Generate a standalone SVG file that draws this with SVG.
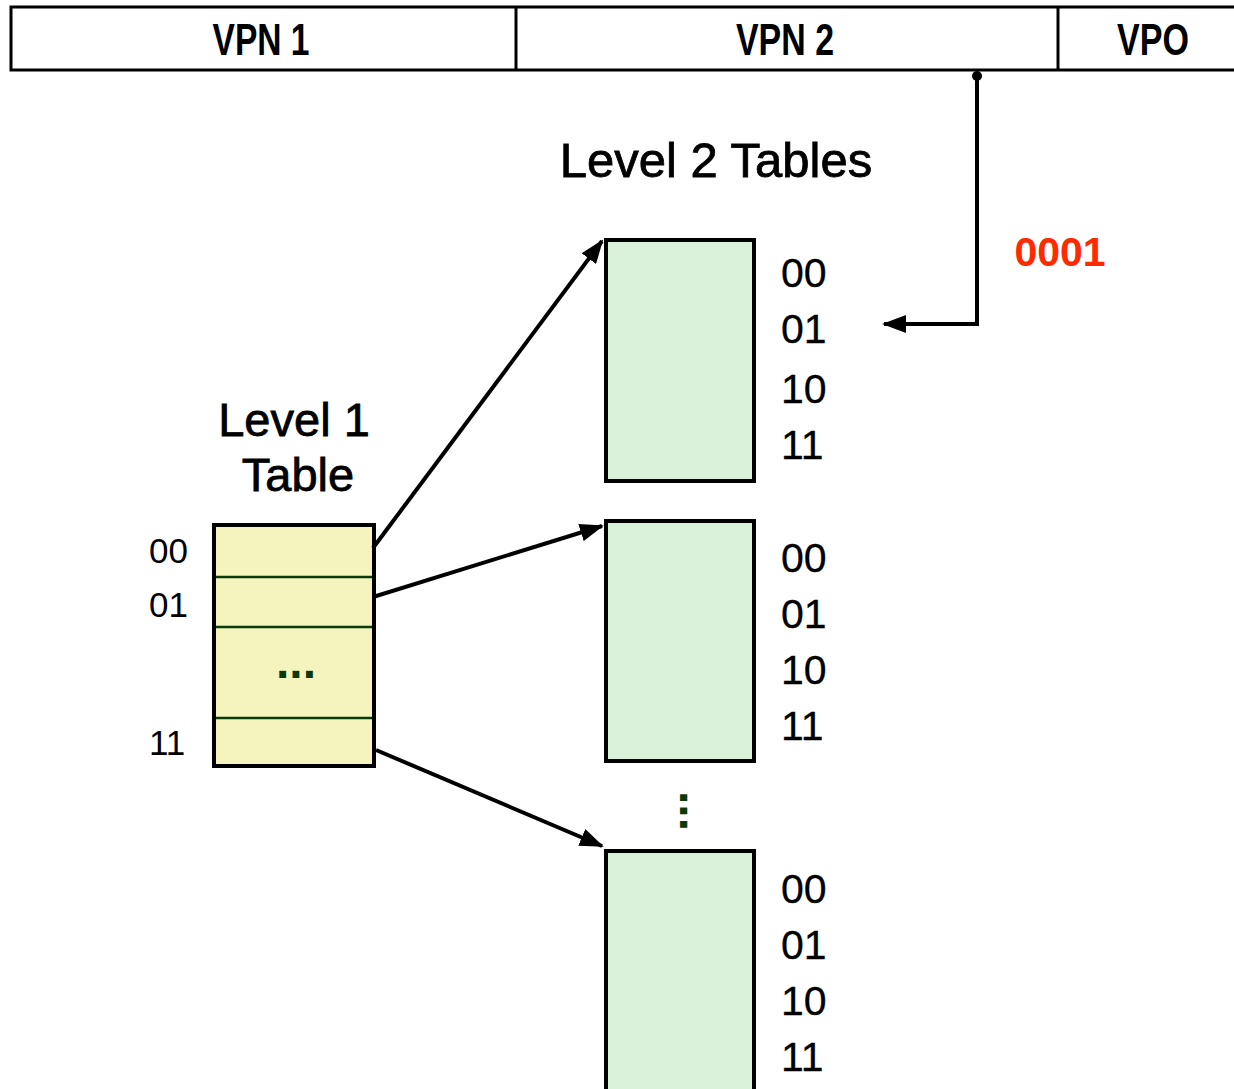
<svg xmlns="http://www.w3.org/2000/svg" width="1234" height="1089" viewBox="0 0 1234 1089">
<style>
.bar{fill:#fff;stroke:#000;stroke-width:3}
.vpn{font-family:"Liberation Sans",Arial,sans-serif;font-weight:bold;font-size:44px;fill:#000;text-anchor:middle}
.ttl{font-family:"Liberation Sans",Arial,sans-serif;font-size:47px;fill:#000;stroke:#000;stroke-width:0.8;text-anchor:middle}
.num{font-family:"Liberation Sans",Arial,sans-serif;font-size:41px;fill:#000;stroke:#000;stroke-width:0.3}
.lnum{font-family:"Liberation Sans",Arial,sans-serif;font-size:35px;fill:#000}
.l2{fill:#d9f0d9;stroke:#000;stroke-width:4}
.l1{fill:#f5f4be;stroke:#000;stroke-width:4}
.div{stroke:#0a3a0a;stroke-width:2.5}
.dots{font-family:"Liberation Sans",Arial,sans-serif;font-weight:bold;font-size:48px;fill:#0a3a0a;text-anchor:middle}
.conn{fill:none;stroke:#000;stroke-width:4}
</style>
<defs>
<marker id="ah" viewBox="0 0 24 18" refX="22" refY="9" markerWidth="24" markerHeight="18" markerUnits="userSpaceOnUse" orient="auto">
<path d="M0,0 L24,9 L0,18 z" fill="#000"/>
</marker>
</defs>
<g id="address">
<rect class="bar" x="11" y="7" width="1230" height="63"/>
<line x1="516" y1="7" x2="516" y2="70" stroke="#000" stroke-width="3"/>
<line x1="1058" y1="7" x2="1058" y2="70" stroke="#000" stroke-width="3"/>
<text class="vpn" x="261" y="55" textLength="97" lengthAdjust="spacingAndGlyphs">VPN 1</text>
<text class="vpn" x="785" y="55" textLength="98" lengthAdjust="spacingAndGlyphs">VPN 2</text>
<text class="vpn" x="1153" y="55" textLength="72" lengthAdjust="spacingAndGlyphs">VPO</text>
</g>
<g id="title-l2">
<text class="ttl" x="716" y="177" style="font-size:49px">Level 2 Tables</text>
</g>
<g id="title-l1">
<text class="ttl" x="294" y="436">Level 1</text>
<text class="ttl" x="298" y="491">Table</text>
</g>
<g id="offset-label">
<text x="1060" y="266" font-family="Liberation Sans, Arial, sans-serif" font-weight="bold" font-size="41" fill="#ff2a00" text-anchor="middle">0001</text>
</g>
<g id="l1-table">
<rect class="l1" x="214" y="525" width="160" height="241"/>
<line class="div" x1="216" y1="577" x2="372" y2="577"/>
<line class="div" x1="216" y1="627" x2="372" y2="627"/>
<line class="div" x1="216" y1="718" x2="372" y2="718"/>
<text class="dots" x="296" y="678">...</text>
<text class="lnum" x="149" y="563">00</text>
<text class="lnum" x="149" y="617">01</text>
<text class="lnum" x="149" y="755">11</text>
</g>
<g id="l2-table-1">
<rect class="l2" x="606" y="240" width="148" height="241"/>
<text class="num" x="781" y="287">00</text>
<text class="num" x="781" y="343">01</text>
<text class="num" x="781" y="403">10</text>
<text class="num" x="781" y="459">11</text>
</g>
<g id="l2-table-2">
<rect class="l2" x="606" y="521" width="148" height="240"/>
<text class="num" x="781" y="572">00</text>
<text class="num" x="781" y="628">01</text>
<text class="num" x="781" y="684">10</text>
<text class="num" x="781" y="740">11</text>
</g>
<g id="vdots">
<text class="dots" transform="translate(683,811) rotate(90)" x="0" y="3" text-anchor="middle">...</text>
</g>
<g id="l2-table-3">
<rect class="l2" x="606" y="851" width="148" height="245"/>
<text class="num" x="781" y="903">00</text>
<text class="num" x="781" y="959">01</text>
<text class="num" x="781" y="1015">10</text>
<text class="num" x="781" y="1071">11</text>
</g>
<g id="connectors">
<circle cx="977" cy="76" r="5" fill="#000"/>
<path class="conn" d="M977,76 L977,324 L884,324" marker-end="url(#ah)"/>
<path class="conn" d="M373,548 L602,241" marker-end="url(#ah)"/>
<path class="conn" d="M373,597 L602,526" marker-end="url(#ah)"/>
<path class="conn" d="M376,750 L602,846" marker-end="url(#ah)"/>
</g>
</svg>
